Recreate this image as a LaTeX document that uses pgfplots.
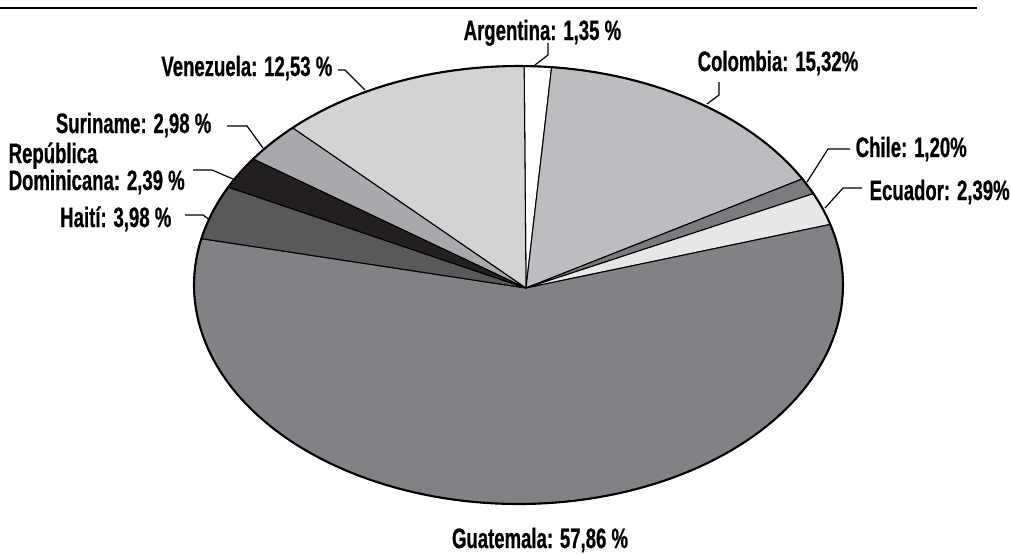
\documentclass[border=0pt]{standalone}
\usepackage{fontspec}
\setmainfont[FakeStretch=0.66, BoldFeatures={FakeBold=0.6}]{Liberation Sans}
\usepackage{pgfplots}
\pgfplotsset{compat=1.18}
\definecolor{cArg}{HTML}{FFFFFF}
\definecolor{cCol}{HTML}{BCBDC0}
\definecolor{cChi}{HTML}{7A7B7F}
\definecolor{cEcu}{HTML}{E6E7E8}
\definecolor{cGua}{HTML}{808285}
\definecolor{cHai}{HTML}{58595B}
\definecolor{cDom}{HTML}{231F20}
\definecolor{cSur}{HTML}{A7A9AC}
\definecolor{cVen}{HTML}{D1D3D4}
% shares in percent
\def\pArg{1.35}\def\pCol{15.32}\def\pChi{1.20}\def\pEcu{2.39}\def\pGua{57.86}%
\def\pHai{3.98}\def\pDom{2.39}\def\pSur{2.98}\def\pVen{12.53}%
\pgfmathsetmacro\tA{89}%
\pgfmathsetmacro\tB{\tA-3.6*\pArg}%
\pgfmathsetmacro\tC{\tB-3.6*\pCol}%
\pgfmathsetmacro\tD{\tC-3.6*\pChi}%
\pgfmathsetmacro\tE{\tD-3.6*\pEcu}%
\pgfmathsetmacro\tF{\tE-3.6*\pGua}%
\pgfmathsetmacro\tG{\tF-3.6*\pHai}%
\pgfmathsetmacro\tH{\tG-3.6*\pDom}%
\pgfmathsetmacro\tI{\tH-3.6*\pSur}%
\pgfmathsetmacro\tJ{\tI-3.6*\pVen}%
\def\cx{518.5}\def\cy{268}\def\ra{324.5}\def\rb{219}%
\def\ax{526}\def\ay{265}%
\begin{document}%
\begin{tikzpicture}[font=\fontsize{8}{9}\selectfont\bfseries]
\begin{axis}[at={(0,0)}, anchor=south west, scale only axis, width=101.1mm, height=55.3mm,
  xmin=0, xmax=1011, ymin=0, ymax=553, hide axis, xtick=\empty, ytick=\empty, clip=false]
\addplot[draw=black, line width=0.3pt, fill=cArg, domain=\tB:\tA, samples=10, variable=\t] ({\cx+\ra*cos(\t)},{\cy+\rb*sin(\t)}) -- (axis cs:\ax,\ay) -- cycle;
\addplot[draw=black, line width=0.3pt, fill=cCol, domain=\tC:\tB, samples=40, variable=\t] ({\cx+\ra*cos(\t)},{\cy+\rb*sin(\t)}) -- (axis cs:\ax,\ay) -- cycle;
\addplot[draw=black, line width=0.3pt, fill=cChi, domain=\tD:\tC, samples=8, variable=\t] ({\cx+\ra*cos(\t)},{\cy+\rb*sin(\t)}) -- (axis cs:\ax,\ay) -- cycle;
\addplot[draw=black, line width=0.3pt, fill=cEcu, domain=\tE:\tD, samples=10, variable=\t] ({\cx+\ra*cos(\t)},{\cy+\rb*sin(\t)}) -- (axis cs:\ax,\ay) -- cycle;
\addplot[draw=black, line width=0.3pt, fill=cGua, domain=\tF:\tE, samples=120, variable=\t] ({\cx+\ra*cos(\t)},{\cy+\rb*sin(\t)}) -- (axis cs:\ax,\ay) -- cycle;
\addplot[draw=black, line width=0.3pt, fill=cHai, domain=\tG:\tF, samples=12, variable=\t] ({\cx+\ra*cos(\t)},{\cy+\rb*sin(\t)}) -- (axis cs:\ax,\ay) -- cycle;
\addplot[draw=black, line width=0.3pt, fill=cDom, domain=\tH:\tG, samples=10, variable=\t] ({\cx+\ra*cos(\t)},{\cy+\rb*sin(\t)}) -- (axis cs:\ax,\ay) -- cycle;
\addplot[draw=black, line width=0.3pt, fill=cSur, domain=\tI:\tH, samples=10, variable=\t] ({\cx+\ra*cos(\t)},{\cy+\rb*sin(\t)}) -- (axis cs:\ax,\ay) -- cycle;
\addplot[draw=black, line width=0.3pt, fill=cVen, domain=\tJ:\tI, samples=40, variable=\t] ({\cx+\ra*cos(\t)},{\cy+\rb*sin(\t)}) -- (axis cs:\ax,\ay) -- cycle;
\addplot[draw=black, line width=0.6pt, domain=0:360, samples=200, variable=\t] ({\cx+\ra*cos(\t)},{\cy+\rb*sin(\t)});
% top rule
\draw[line width=0.45pt] (axis cs:0,545) -- (axis cs:977,545);
% leaders
\draw[line width=0.35pt] (axis cs:535,488) -- (axis cs:548,498) -- (axis cs:548,510);
\draw[line width=0.35pt] (axis cs:707,449) -- (axis cs:719,458) -- (axis cs:719,471);
\draw[line width=0.35pt] (axis cs:807,371) -- (axis cs:828,404) -- (axis cs:850,404);
\draw[line width=0.35pt] (axis cs:825,345) -- (axis cs:843,365) -- (axis cs:862,365);
\draw[line width=0.35pt] (axis cs:365,463) -- (axis cs:345,483) -- (axis cs:338,483);
\draw[line width=0.35pt] (axis cs:263,405) -- (axis cs:247,427) -- (axis cs:227,427);
\draw[line width=0.35pt] (axis cs:233,374) -- (axis cs:212,383) -- (axis cs:193,383);
\draw[line width=0.35pt] (axis cs:210,333) -- (axis cs:203,338) -- (axis cs:185,338);
% labels
\node[anchor=base west, inner sep=0pt] at (axis cs:463,513) {Argentina: 1,35 \%};
\node[anchor=base west, inner sep=0pt] at (axis cs:697,482) {Colombia: 15,32\%};
\node[anchor=base west, inner sep=0pt] at (axis cs:855,396) {Chile: 1,20\%};
\node[anchor=base west, inner sep=0pt] at (axis cs:869,353) {Ecuador: 2,39\%};
\node[anchor=base, inner sep=0pt] at (axis cs:540,5) {Guatemala: 57,86 \%};
\node[anchor=base east, inner sep=0pt] at (axis cs:172,326) {Haití: 3,98 \%};
\node[anchor=base west, inner sep=0pt] at (axis cs:8,390) {República};
\node[anchor=base west, inner sep=0pt] at (axis cs:8,363) {Dominicana: 2,39 \%};
\node[anchor=base east, inner sep=0pt] at (axis cs:212,420) {Suriname: 2,98 \%};
\node[anchor=base east, inner sep=0pt] at (axis cs:333,477) {Venezuela: 12,53 \%};
\end{axis}
\pgfresetboundingbox
\path (0,0) rectangle (101.1mm,55.3mm);
\end{tikzpicture}%
\end{document}
